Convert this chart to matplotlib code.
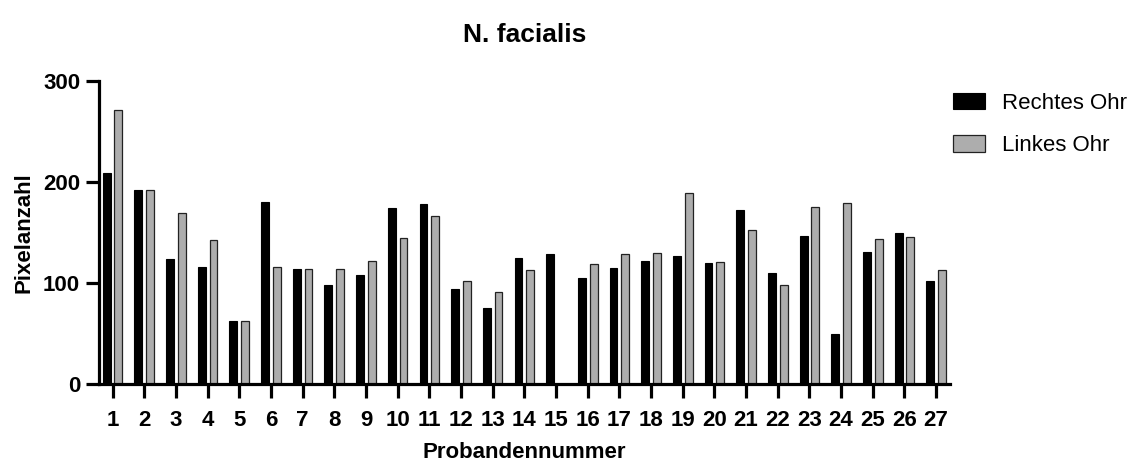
import matplotlib.pyplot as plt
import numpy as np

plt.rcParams['font.family'] = ['Liberation Sans', 'DejaVu Sans']

# Probandennummer 1..27
probanden = [str(i) for i in range(1, 28)]

# Pixelanzahl
rechtes_ohr = [209, 192, 124, 116, 62, 180, 114, 98, 108, 174,
               178, 94, 75, 125, 129, 105, 115, 122, 127, 120,
               172, 110, 146, 49, 131, 149, 102]
linkes_ohr = [271, 192, 169, 142, 62, 116, 114, 114, 122, 144,
              166, 102, 91, 113, 0, 119, 129, 130, 189, 121,
              152, 98, 175, 179, 143, 145, 113]

x = np.arange(1, len(probanden) + 1)
w = 0.25
off = 0.185

fig = plt.figure(figsize=(11.39, 4.69), dpi=100)
ax = fig.add_axes([0.0869, 0.1812, 0.7472, 0.6468])

ax.bar(x - off, rechtes_ohr, width=w, color='black', edgecolor='black',
       linewidth=0.8, label='Rechtes Ohr')
ax.bar(x + off, linkes_ohr, width=w, color='#adadad', edgecolor='#222222',
       linewidth=0.9, label='Linkes Ohr')

ax.set_xlim(0.57, 27.44)
ax.set_ylim(0, 300)
ax.set_xticks(x)
ax.set_xticklabels(probanden, fontsize=16, fontweight='bold')
ax.set_yticks([0, 100, 200, 300])
ax.set_yticklabels(['0', '100', '200', '300'], fontsize=16, fontweight='bold')

for s in ['top', 'right']:
    ax.spines[s].set_visible(False)
for s in ['left', 'bottom']:
    ax.spines[s].set_linewidth(2.3)
ax.tick_params(axis='x', length=10, width=2.3, pad=8.5)
ax.tick_params(axis='y', length=9.5, width=2.3, pad=4)

ax.set_title('N. facialis', fontsize=19, fontweight='bold', pad=28)
ax.set_xlabel('Probandennummer', fontsize=16, fontweight='bold', labelpad=8)
ax.set_ylabel('Pixelanzahl', fontsize=16, fontweight='bold', labelpad=6)

fig.legend(loc='upper left', bbox_to_anchor=(953 / 1139, 1 - 93 / 469),
           frameon=False, fontsize=16, handlelength=1.42, handleheight=0.75,
           handletextpad=0.8, labelspacing=0.95, borderpad=0, borderaxespad=0)

fig.savefig('out.png', dpi=100)
